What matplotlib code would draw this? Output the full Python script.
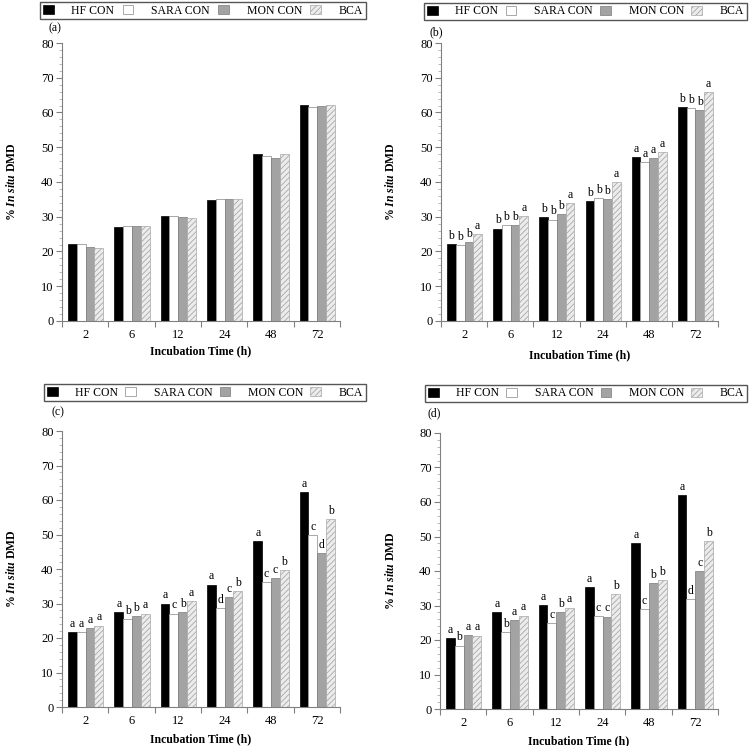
import numpy as np
import matplotlib.pyplot as plt
from matplotlib.ticker import MultipleLocator, FixedLocator, NullFormatter

plt.rcParams['font.family'] = ['Liberation Serif', 'DejaVu Serif']
plt.rcParams['mathtext.fontset'] = 'custom'
plt.rcParams['mathtext.rm'] = 'Liberation Serif'
plt.rcParams['mathtext.it'] = 'Liberation Serif:italic'
plt.rcParams['mathtext.bf'] = 'Liberation Serif:bold'
plt.rcParams['mathtext.bfit'] = 'Liberation Serif:italic:bold'
plt.rcParams['hatch.linewidth'] = 0.6

times = ['2', '6', '12', '24', '48', '72']
series = ['HF CON', 'SARA CON', 'MON CON', 'BCA']

# panel (a)
a_hf = [22.1, 27.0, 30.3, 34.9, 48.0, 62.1]
a_sara = [22.1, 27.4, 30.3, 35.1, 47.6, 61.5]
a_mon = [21.2, 27.4, 29.9, 35.1, 46.9, 62.0]
a_bca = [21.1, 27.4, 29.7, 35.1, 48.0, 62.1]

# panel (b)
b_hf = [22.1, 26.6, 30.0, 34.4, 47.3, 61.6]
b_sara = [21.8, 27.5, 29.2, 35.5, 45.7, 61.3]
b_mon = [22.6, 27.5, 30.7, 35.1, 46.8, 60.8]
b_bca = [25.0, 30.3, 34.0, 40.1, 48.6, 65.8]
b_letters = [['b', 'b', 'b', 'b', 'a', 'b'],
             ['b', 'b', 'b', 'b', 'a', 'b'],
             ['b', 'b', 'b', 'b', 'a', 'b'],
             ['a', 'a', 'a', 'a', 'a', 'a']]

# panel (c)
c_hf = [21.7, 27.6, 30.0, 35.5, 48.2, 62.2]
c_sara = [21.6, 25.5, 27.1, 28.6, 36.3, 49.8]
c_mon = [22.9, 26.3, 27.4, 31.9, 37.5, 44.6]
c_bca = [23.6, 27.1, 30.6, 33.5, 39.8, 54.5]
c_letters = [['a', 'a', 'a', 'a', 'a', 'a'],
             ['a', 'b', 'c', 'd', 'c', 'c'],
             ['a', 'b', 'b', 'c', 'c', 'd'],
             ['a', 'a', 'a', 'b', 'b', 'b']]

# panel (d)
d_hf = [20.5, 28.0, 30.1, 35.3, 48.1, 62.1]
d_sara = [18.4, 22.2, 24.8, 26.9, 29.1, 31.9]
d_mon = [21.4, 25.9, 28.0, 26.8, 36.5, 40.1]
d_bca = [21.3, 27.1, 29.4, 33.4, 37.3, 48.6]
d_letters = [['a', 'a', 'a', 'a', 'a', 'a'],
             ['b', 'b', 'c', 'c', 'c', 'd'],
             ['a', 'a', 'b', 'c', 'b', 'c'],
             ['a', 'a', 'a', 'b', 'b', 'b']]

styles = [dict(color='black', edgecolor='black', linewidth=0.5),
          dict(color='white', edgecolor='#9a9a9a', linewidth=0.6),
          dict(color='#a3a3a3', edgecolor='#7a7a7a', linewidth=0.5),
          dict(color='#ececec', edgecolor='#a8a8a8', linewidth=0.5, hatch='//////')]

W, H = 750, 746
fig = plt.figure(figsize=(7.5, 7.46), dpi=100)

# (left, right, top, bottom) in pixels, legend box, tag position, xlabel y
panels = [
    dict(box=(62, 340, 43, 321), data=[a_hf, a_sara, a_mon, a_bca], letters=None,
         leg=(40, 2, 366, 19), tag='(a)', tagpos=(55, 28), xl=351),
    dict(box=(441, 718, 43, 321), data=[b_hf, b_sara, b_mon, b_bca], letters=b_letters,
         leg=(424, 2, 747, 21), tag='(b)', tagpos=(436, 32), xl=355),
    dict(box=(62, 340, 431, 707), data=[c_hf, c_sara, c_mon, c_bca], letters=c_letters,
         leg=(44, 383, 366, 402), tag='(c)', tagpos=(58, 412), xl=739),
    dict(box=(440, 718, 433, 709), data=[d_hf, d_sara, d_mon, d_bca], letters=d_letters,
         leg=(425, 384, 747, 403), tag='(d)', tagpos=(434, 413), xl=741),
]

x = np.arange(len(times)) + 0.51
bw = 0.19
for p in panels:
    l, r, t, b = p['box']
    ax = fig.add_axes([l / W, 1 - b / H, (r - l) / W, (b - t) / H])
    handles = []
    for i, vals in enumerate(p['data']):
        bars = ax.bar(x + (i - 1.5) * bw, vals, bw, label=series[i], **styles[i])
        handles.append(bars)
        if p['letters'] is not None:
            for xi, v, s in zip(x + (i - 1.5) * bw, vals, p['letters'][i]):
                ax.annotate(s, (xi, v), xytext=(0, 1.5), textcoords='offset points',
                            ha='center', va='bottom', fontsize=8.5)
    ax.set_xlim(0, 6)
    ax.set_ylim(0, 80)
    for s in ['top', 'right']:
        ax.spines[s].set_visible(False)
    for s in ['left', 'bottom']:
        ax.spines[s].set_color('#808080')
        ax.spines[s].set_linewidth(0.8)
    ax.yaxis.set_major_locator(MultipleLocator(10))
    ax.yaxis.set_minor_locator(MultipleLocator(2))
    ax.xaxis.set_major_locator(FixedLocator(np.arange(7)))
    ax.xaxis.set_major_formatter(NullFormatter())
    ax.set_xticks(x, times, minor=True)
    ax.tick_params(axis='x', which='major', length=4, color='#808080', direction='out')
    ax.tick_params(axis='x', which='minor', length=0, pad=6, labelsize=9)
    ax.tick_params(axis='y', which='major', length=4, color='#808080', labelsize=9, pad=2)
    ax.tick_params(axis='y', which='minor', length=2, color='#b0b0b0')
    ax.set_ylabel(r'% $\mathbfit{In\ situ}$ DMD', fontsize=8.5, fontweight='bold', va='center')
    ax.yaxis.set_label_coords(-50 / (r - l), 0.5)
    ax.set_xlabel('Incubation Time (h)', fontsize=8.5, fontweight='bold', va='center')
    ax.xaxis.set_label_coords(0.5, (b - p['xl']) / (b - t))
    tx, ty = p['tagpos']
    fig.text(tx / W, 1 - ty / H, p['tag'], fontsize=8.5, ha='center', va='center')
    lx0, ly0, lx1, ly1 = p['leg']
    fig.legend(handles=handles, loc='center', ncol=4, mode='expand',
               bbox_to_anchor=(lx0 / W, 1 - ly1 / H, (lx1 - lx0) / W, (ly1 - ly0) / H),
               fontsize=8.5, frameon=True, fancybox=False, edgecolor='#555555',
               framealpha=1, borderpad=0.25, handlelength=0.9, handleheight=0.9,
               handletextpad=1.5, columnspacing=2.0, borderaxespad=0)

fig.savefig('out.png', dpi=100)
